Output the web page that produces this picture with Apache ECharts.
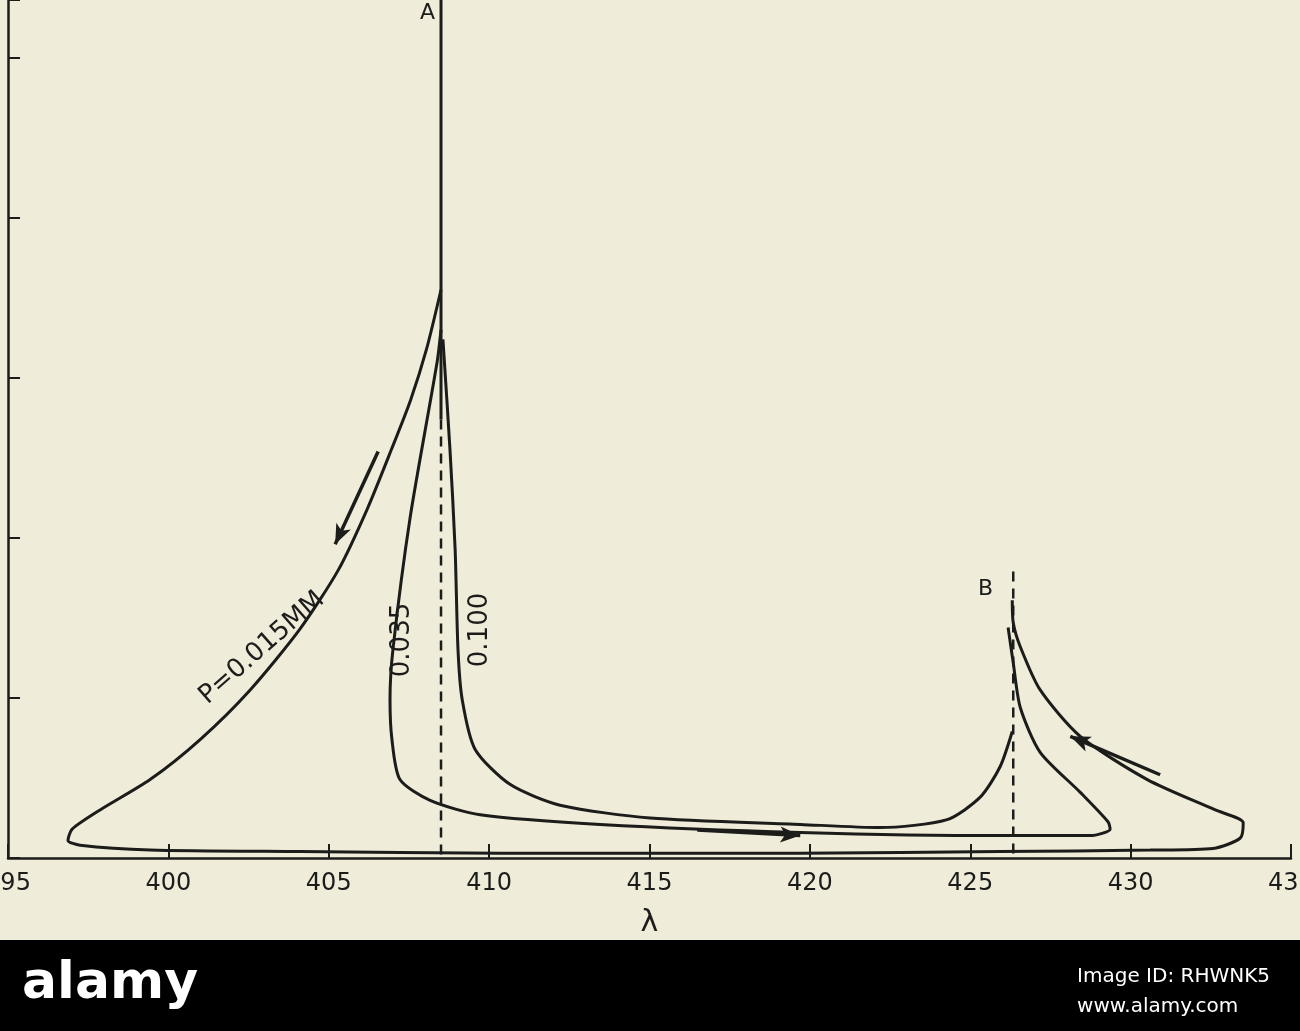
<!DOCTYPE html>
<html>
<head>
<meta charset="utf-8">
<script src="https://cdn.jsdelivr.net/npm/echarts@6/dist/echarts.min.js"></script>
<style>
  html, body { margin: 0; padding: 0; background: #efecd9; }
  #chart-container { width: 1300px; height: 1031px; }
</style>
</head>
<body>
<div id="chart-container"></div>
<script>
// wavelength (x) vs relative intensity (y)
var xTicks = [395, 400, 405, 410, 415, 420, 425, 430, 435];

var curve015 = [
  [408.5, 3.55], [408.05, 3.18], [407.55, 2.86], [406.95, 2.55], [406.2, 2.18],
  [405.3, 1.8], [404.1, 1.43], [402.55, 1.05], [400.99, 0.74], [399.43, 0.49],
  [397.87, 0.3], [397.0, 0.18], [396.87, 0.11], [397.25, 0.08], [399.43, 0.05],
  [404.1, 0.04], [410.34, 0.03], [419.7, 0.03], [425.93, 0.04], [430.61, 0.05],
  [432.57, 0.06], [433.42, 0.125], [433.51, 0.22], [432.64, 0.3], [430.52, 0.49],
  [428.43, 0.76], [427.18, 1.05], [426.56, 1.32], [426.34, 1.47], [426.31, 1.61]
];
var curve035 = [
  [408.5, 3.3], [408.38, 3.1], [407.54, 2.13], [407.0, 1.3], [406.91, 0.99],
  [406.97, 0.74], [407.22, 0.49], [408.16, 0.36], [409.72, 0.27], [413.46, 0.21],
  [419.7, 0.16], [425.93, 0.14], [428.74, 0.14], [429.36, 0.18], [429.3, 0.225],
  [428.43, 0.41], [427.18, 0.66], [426.56, 0.94], [426.34, 1.22], [426.18, 1.44]
];
var curve100 = [
  [408.56, 3.24], [408.78, 2.55], [408.94, 1.93], [409.03, 1.3], [409.16, 0.99],
  [409.56, 0.68], [410.65, 0.46], [412.21, 0.33], [415.02, 0.25], [419.7, 0.21],
  [422.19, 0.19], [424.28, 0.24], [425.31, 0.38], [425.93, 0.57], [426.31, 0.79]
];
var lineASolid = [[408.5, 5.36], [408.5, 2.74]];
var lineADash = [[408.5, 2.74], [408.5, 0]];
var lineBDash = [[426.34, 1.79], [426.34, 0]];
var arrows = [
  [[406.54, 2.54], [405.2, 1.96]],
  [[416.49, 0.175], [419.7, 0.14]],
  [[430.92, 0.52], [428.12, 0.76]]
];

var ink = '#1c1c1a';
var font = 'DejaVu Sans';

function curve(data, smooth) {
  return {
    type: 'line', data: data, smooth: smooth, showSymbol: false,
    lineStyle: { color: ink, width: 3 }, silent: true
  };
}
function vline(data, dashed, width) {
  return {
    type: 'line', data: data, showSymbol: false, silent: true,
    lineStyle: { color: ink, width: width, type: dashed ? [10, 7] : 'solid' }
  };
}

var dom = document.getElementById('chart-container');
var myChart = echarts.init(dom, null, { renderer: 'canvas' });

var arrowSeries = {
  type: 'line', data: [], silent: true,
  markLine: {
    silent: true, symbol: ['none', 'arrow'], symbolSize: [12, 20],
    label: { show: false },
    lineStyle: { color: ink, width: 3.5, type: 'solid' },
    data: arrows.map(function (a) { return [{ coord: a[0] }, { coord: a[1] }]; })
  }
};

var option = {
  backgroundColor: '#efecd9',
  animation: false,
  grid: { left: 8, right: 9, top: 0, bottom: 173, containLabel: false, outerBoundsMode: 'none' },
  xAxis: {
    type: 'value', min: 395, max: 435, interval: 5,
    axisLine: { lineStyle: { color: ink, width: 2.5 } },
    axisTick: { inside: true, length: 14, lineStyle: { color: ink, width: 2 } },
    axisLabel: { color: ink, fontSize: 24, fontFamily: font, margin: 14 },
    splitLine: { show: false },
    name: 'λ', nameLocation: 'middle', nameGap: 50,
    nameTextStyle: { color: ink, fontSize: 30, fontFamily: font }
  },
  yAxis: {
    type: 'value', min: 0, max: 5.36, interval: 1,
    axisLine: { show: true, lineStyle: { color: ink, width: 2.5 } },
    axisTick: { inside: true, length: 12, lineStyle: { color: ink, width: 2 } },
    axisLabel: { show: false },
    splitLine: { show: false }
  },
  series: [
    curve(curve015, 0.25),
    curve(curve035, 0.25),
    curve(curve100, 0.25),
    vline(lineASolid, false, 3),
    vline(lineADash, true, 2.5),
    vline(lineBDash, true, 2.5),
    arrowSeries
  ],
  graphic: [
    { type: 'text', left: 420, top: 2, style: { text: 'A', fontSize: 22, fontFamily: font, fill: ink } },
    { type: 'text', left: 978, top: 578, style: { text: 'B', fontSize: 22, fontFamily: font, fill: ink } },
    { type: 'text', x: 262, y: 648, rotation: 0.72,
      style: { text: 'P=0.015MM', fontSize: 26, fontFamily: font, fill: ink, align: 'center', verticalAlign: 'middle' } },
    { type: 'text', x: 402, y: 640, rotation: Math.PI / 2,
      style: { text: '0.035', fontSize: 26, fontFamily: font, fill: ink, align: 'center', verticalAlign: 'middle' } },
    { type: 'text', x: 480, y: 630, rotation: Math.PI / 2,
      style: { text: '0.100', fontSize: 26, fontFamily: font, fill: ink, align: 'center', verticalAlign: 'middle' } },
    { type: 'rect', left: 0, top: 940, shape: { width: 1300, height: 91 }, style: { fill: '#000' } },
    { type: 'text', left: 22, top: 958, style: { text: 'alamy', fontSize: 52, fontWeight: 'bold', fontFamily: font, fill: '#fff' } },
    { type: 'text', right: 30, top: 962, style: { text: 'Image ID: RHWNK5\nwww.alamy.com', fontSize: 20, lineHeight: 30, fontFamily: font, fill: '#fff', align: 'right' } }
  ]
};

if (option && typeof option === 'object') {
  myChart.setOption(option);
}

window.addEventListener('resize', myChart.resize);
</script>
</body>
</html>
